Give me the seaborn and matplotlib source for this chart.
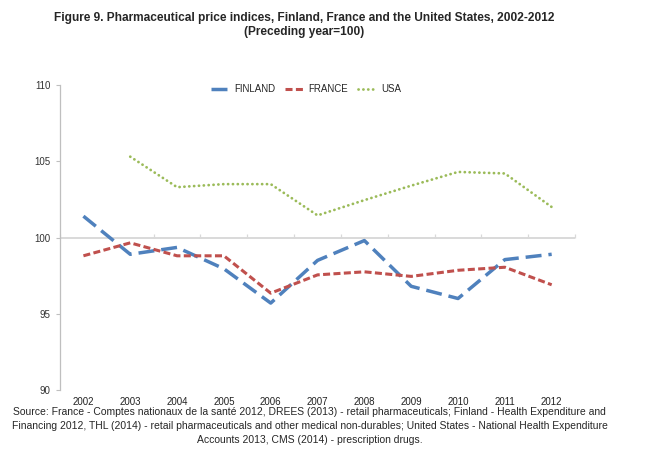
import numpy as np
import pandas as pd
import matplotlib
matplotlib.use("Agg")
import matplotlib.pyplot as plt
import seaborn as sns

# values (preceding year = 100)
years = ["2002", "2003", "2004", "2005", "2006", "2007", "2008", "2009", "2010", "2011", "2012"]
finland = [101.4, 98.9, 99.35, 97.95, 95.7, 98.5, 99.8, 96.8, 96.0, 98.55, 98.9]
france = [98.8, 99.65, 98.8, 98.8, 96.35, 97.55, 97.75, 97.45, 97.85, 98.05, 96.9]
usa = [np.nan, 105.3, 103.3, 103.5, 103.5, 101.45, 102.45, 103.4, 104.3, 104.2, 102.0]
series_names = ["FINLAND", "FRANCE", "USA"]
y_ticks = [90, 95, 100, 105, 110]

title = ("Figure 9. Pharmaceutical price indices, Finland, France and the United States, 2002-2012\n"
         "(Preceding year=100)")
source = ("Source: France - Comptes nationaux de la santé 2012, DREES (2013) - retail pharmaceuticals; Finland - Health Expenditure and\n"
          "Financing 2012, THL (2014) - retail pharmaceuticals and other medical non-durables; United States - National Health Expenditure\n"
          "Accounts 2013, CMS (2014) - prescription drugs.")

sns.set_style("white")
plt.rcParams['font.family'] = ['Liberation Sans', 'DejaVu Sans']

df = pd.DataFrame({"pos": np.arange(len(years)), "FINLAND": finland, "FRANCE": france, "USA": usa})

fig = plt.figure(figsize=(6.58, 4.57), dpi=100)
ax = fig.add_axes([0.0912, 0.1466, 0.7828, 0.6674])

styles = {
    "FINLAND": dict(color="#4F81BD", lw=2.5, dashes=(4.6, 2.0)),
    "FRANCE": dict(color="#C0504D", lw=2.2, dashes=(2.3, 1.1)),
    "USA": dict(color="#9BBB59", lw=2.0, dashes=(0.05, 1.7)),
}
for name in series_names:
    st = styles[name]
    sns.lineplot(data=df, x="pos", y=name, ax=ax, color=st["color"], linewidth=st["lw"],
                 label=name)
    line = ax.get_lines()[-1]
    line.set_dashes(st["dashes"])
    line.set_dash_capstyle("round" if name == "USA" else "butt")

ax.set_xlim(-0.5, len(years) - 0.5)
ax.set_ylim(y_ticks[0], y_ticks[-1])
ax.set_yticks(y_ticks)
ax.set_yticklabels([str(v) for v in y_ticks], fontsize=7, color="#333333")
ax.set_xticks(df["pos"])
ax.set_xticklabels(years, fontsize=7, color="#222222")
ax.tick_params(axis="x", length=0, pad=5)
ax.tick_params(axis="y", length=3, width=0.8, color="#BFBFBF", left=True, pad=4)
ax.set_xlabel("")
ax.set_ylabel("")

for s in ["top", "right", "bottom"]:
    ax.spines[s].set_visible(False)
ax.spines["left"].set_color("#BFBFBF")
ax.spines["left"].set_linewidth(0.9)

# category axis crosses at 100
ax.axhline(100, color="#D9D9D9", lw=1.4, zorder=0)
sec = ax.secondary_xaxis((100 - y_ticks[0]) / (y_ticks[-1] - y_ticks[0]))
sec.set_xticks(np.arange(-0.5, len(years), 1.0))
sec.set_xticklabels([])
sec.tick_params(length=3, width=0.9, color="#D9D9D9", direction="out")
for sp in sec.spines.values():
    sp.set_visible(False)

ax.get_legend().remove()
handles, labels = ax.get_legend_handles_labels()
fig.legend(handles, labels, loc="center", bbox_to_anchor=(0.465, 0.805), ncol=3,
           frameon=False, fontsize=7, handlelength=2.0, handletextpad=0.4,
           columnspacing=1.0)

fig.text(0.462, 0.945, title, ha="center", va="center", fontsize=8.6,
         fontweight="bold", linespacing=1.2)
fig.text(0.471, 0.068, source, ha="center", va="center", fontsize=7.5, linespacing=1.45)

fig.savefig("out.png", dpi=100)
